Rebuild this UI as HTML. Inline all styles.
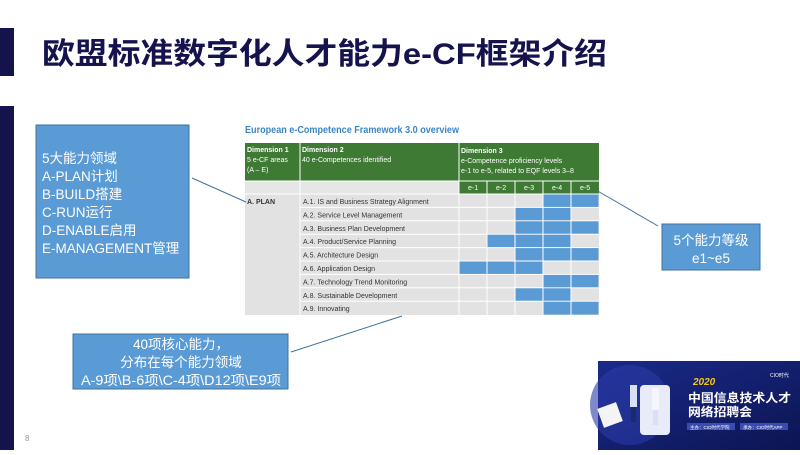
<!DOCTYPE html>
<html><head><meta charset="utf-8"><style>
body{margin:0;width:800px;height:450px;overflow:hidden;background:#fff;font-family:"Liberation Sans","Noto Sans CJK SC",sans-serif}
</style></head><body>
<svg width="800" height="450" xmlns="http://www.w3.org/2000/svg" font-family="Liberation Sans, Noto Sans CJK SC, sans-serif">
<rect x="0" y="28" width="14" height="48" fill="#15134d"/>
<rect x="0" y="106" width="14" height="344" fill="#15134d"/>
<text x="42" y="64" font-size="30" font-weight="bold" fill="#15134d" textLength="565" lengthAdjust="spacingAndGlyphs">欧盟标准数字化人才能力e-CF框架介绍</text>
<text x="25" y="441" font-size="8" fill="#999">8</text>

<!-- table -->
<text x="245" y="133" font-size="10" fill="#3a86c4" font-weight="bold" textLength="214" lengthAdjust="spacingAndGlyphs">European e-Competence Framework 3.0 overview</text>
<rect x="245" y="143" width="354" height="38" fill="#3f7a35"/>
<rect x="459" y="181" width="140" height="13" fill="#3f7a35"/>
<rect x="245" y="181" width="214" height="13" fill="#e6e6e6"/>
<rect x="245" y="194" width="354" height="121" fill="#e2e2e2"/>
<g stroke="#fff" stroke-width="1">
<line x1="300" y1="143" x2="300" y2="315"/>
<line x1="459" y1="143" x2="459" y2="315"/>
<line x1="487" y1="181" x2="487" y2="315"/>
<line x1="515" y1="181" x2="515" y2="315"/>
<line x1="543" y1="181" x2="543" y2="315"/>
<line x1="571" y1="181" x2="571" y2="315"/>
<line x1="245" y1="181" x2="599" y2="181"/>
<line x1="245" y1="194" x2="599" y2="194"/>
</g>
<g stroke="#fff" stroke-width="1">
<line x1="300" y1="207.4" x2="599" y2="207.4"/>
<line x1="300" y1="220.8" x2="599" y2="220.8"/>
<line x1="300" y1="234.2" x2="599" y2="234.2"/>
<line x1="300" y1="247.6" x2="599" y2="247.6"/>
<line x1="300" y1="261" x2="599" y2="261"/>
<line x1="300" y1="274.4" x2="599" y2="274.4"/>
<line x1="300" y1="287.8" x2="599" y2="287.8"/>
<line x1="300" y1="301.2" x2="599" y2="301.2"/>
</g>
<g fill="#5b9bd5">
<rect x="543.5" y="194.5" width="55" height="12.4"/>
<rect x="515.5" y="207.9" width="55" height="12.4"/>
<rect x="515.5" y="221.3" width="83" height="12.4"/>
<rect x="487.5" y="234.7" width="83" height="12.4"/>
<rect x="515.5" y="248.1" width="83" height="12.4"/>
<rect x="459.5" y="261.5" width="83" height="12.4"/>
<rect x="543.5" y="274.9" width="55" height="12.4"/>
<rect x="515.5" y="288.3" width="55" height="12.4"/>
<rect x="543.5" y="301.7" width="55" height="12.9"/>
</g>
<g stroke="#fff" stroke-width="1"><line x1="571" y1="194" x2="571" y2="315"/><line x1="543" y1="194" x2="543" y2="315"/><line x1="515" y1="194" x2="515" y2="315"/><line x1="487" y1="194" x2="487" y2="315"/></g>
<g font-size="7" fill="#fff">
<text x="247" y="152" font-weight="bold">Dimension 1</text>
<text x="247" y="162">5 e-CF areas</text>
<text x="247" y="172">(A – E)</text>
<text x="302" y="152" font-weight="bold">Dimension 2</text>
<text x="302" y="162">40 e-Competences identified</text>
<text x="461" y="153" font-weight="bold">Dimension 3</text>
<text x="461" y="163">e-Competence proficiency levels</text>
<text x="461" y="173">e-1 to e-5, related to EQF levels 3–8</text>
<text x="468" y="190">e-1</text><text x="496" y="190">e-2</text><text x="524" y="190">e-3</text><text x="552" y="190">e-4</text><text x="580" y="190">e-5</text>
</g>
<g font-size="7" fill="#333">
<text x="247" y="204" font-weight="bold">A. PLAN</text>
<text x="303" y="204">A.1. IS and Business Strategy Alignment</text>
<text x="303" y="217.4">A.2. Service Level Management</text>
<text x="303" y="230.8">A.3. Business Plan Development</text>
<text x="303" y="244.2">A.4. Product/Service Planning</text>
<text x="303" y="257.6">A.5. Architecture Design</text>
<text x="303" y="271">A.6. Application Design</text>
<text x="303" y="284.4">A.7. Technology Trend Monitoring</text>
<text x="303" y="297.8">A.8. Sustainable Development</text>
<text x="303" y="311.2">A.9. Innovating</text>
</g>

<!-- connectors -->
<g stroke="#41719c" stroke-width="1">
<line x1="192" y1="178" x2="246" y2="202"/>
<line x1="596" y1="190" x2="658" y2="226"/>
<line x1="291" y1="352" x2="402" y2="316"/>
</g>

<!-- callouts -->
<rect x="36" y="125" width="153" height="153" fill="#5b9bd5" stroke="#41719c"/>
<g font-size="13.5" fill="#fff">
<text x="42" y="163">5大能力领域</text>
<text x="42" y="181">A-PLAN计划</text>
<text x="42" y="199">B-BUILD搭建</text>
<text x="42" y="217">C-RUN运行</text>
<text x="42" y="235">D-ENABLE启用</text>
<text x="42" y="253">E-MANAGEMENT管理</text>
</g>
<rect x="662" y="224" width="98" height="46" fill="#5b9bd5" stroke="#41719c"/>
<g font-size="13.5" fill="#fff" text-anchor="middle">
<text x="711" y="245">5个能力等级</text>
<text x="711" y="263">e1~e5</text>
</g>
<rect x="73" y="334" width="215" height="55" fill="#5b9bd5" stroke="#41719c"/>
<g font-size="13.5" fill="#fff" text-anchor="middle">
<text x="181" y="349">40项核心能力，</text>
<text x="181" y="367">分布在每个能力领域</text>
<text x="181" y="385" textLength="200" lengthAdjust="spacingAndGlyphs">A-9项\B-6项\C-4项\D12项\E9项</text>
</g>

<!-- banner -->
<defs><linearGradient id="bg" x1="0" y1="0" x2="1" y2="1"><stop offset="0" stop-color="#1a2a8a"/><stop offset="1" stop-color="#0c1552"/></linearGradient></defs>
<rect x="598" y="361" width="202" height="89" fill="url(#bg)"/>
<ellipse cx="630" cy="405" rx="40" ry="40" fill="#2a3aa6" opacity="0.6"/>
<rect x="640" y="385" width="30" height="50" rx="4" fill="#e8ecf8"/>
<rect x="600" y="405" width="20" height="20" fill="#f4f4f4" transform="rotate(-20 610 415)"/>
<rect x="630" y="385" width="7" height="22" fill="#d8e0f8"/>
<rect x="631" y="407" width="5" height="15" fill="#1a2a6a"/>
<rect x="652" y="388" width="7" height="22" fill="#f4f6fc"/>
<rect x="653" y="410" width="5" height="15" fill="#d8e0f8"/>
<text x="693" y="385" font-size="10" font-weight="bold" font-style="italic" fill="#f5c518">2020</text>
<text x="688" y="402" font-size="12" font-weight="bold" fill="#fff" textLength="103" lengthAdjust="spacingAndGlyphs">中国信息技术人才</text>
<text x="688" y="416" font-size="12" font-weight="bold" fill="#fff" textLength="64" lengthAdjust="spacingAndGlyphs">网络招聘会</text>
<rect x="687" y="423" width="48" height="7" fill="#3a4cb0"/>
<rect x="740" y="423" width="48" height="7" fill="#3a4cb0"/>
<text x="690" y="429" font-size="4.5" fill="#fff">主办：CIO时代学院</text>
<text x="743" y="429" font-size="4.5" fill="#fff">承办：CIO时代APP</text>
<text x="770" y="377" font-size="5" fill="#fff">CIO时代</text>
</svg>
</body></html>
